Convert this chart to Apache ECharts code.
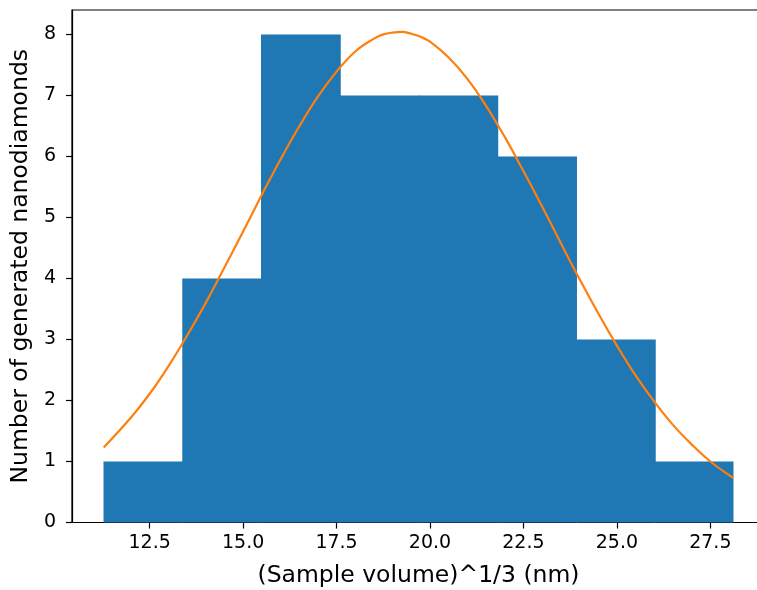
<!DOCTYPE html>
<html>
<head>
<meta charset="utf-8">
<script src="https://cdn.jsdelivr.net/npm/echarts@6/dist/echarts.min.js"></script>
<style>html,body{margin:0;padding:0;background:#fff;overflow:hidden}#c{width:757px;height:590px}</style>
</head>
<body>
<div id="c"></div>
<script>
// Histogram bin edges (nm) and counts
var binEdges = [11.265, 13.372, 15.479, 17.586, 19.693, 21.799, 23.906, 26.013, 28.12];
var counts = [1, 4, 8, 7, 7, 6, 3, 1];
// Fitted curve, values
var curveX = [11.27, 12.0, 12.5, 13.0, 13.5, 14.0, 14.5, 15.0, 15.5, 16.0, 16.5, 17.0, 17.5, 18.0, 18.5, 18.75, 19.0, 19.25, 19.5, 19.75, 20.0, 20.5, 21.0, 21.5, 22.0, 22.5, 23.0, 23.5, 24.0, 24.5, 25.0, 25.5, 26.0, 26.5, 27.0, 27.5, 28.12];
var curveY = [1.23, 1.72, 2.11, 2.56, 3.06, 3.60, 4.18, 4.77, 5.37, 5.95, 6.49, 6.98, 7.39, 7.72, 7.93, 8.00, 8.03, 8.04, 8.01, 7.96, 7.88, 7.62, 7.27, 6.83, 6.32, 5.76, 5.18, 4.58, 3.99, 3.43, 2.90, 2.41, 1.98, 1.60, 1.28, 1.00, 0.73];
// Tick labels
var xTicks = [12.5, 15.0, 17.5, 20.0, 22.5, 25.0, 27.5];
var yTicks = [0, 1, 2, 3, 4, 5, 6, 7, 8];

var barData = counts.map(function (c, i) { return [binEdges[i], binEdges[i + 1], c]; });
var lineData = curveX.map(function (x, i) { return [x, curveY[i]]; });

var font = 'DejaVu Sans';
var chart = echarts.init(document.getElementById('c'), null, { renderer: 'canvas' });
chart.setOption({
  animation: false,
  backgroundColor: '#fff',
  grid: { left: 72, top: 10, width: 693, bottom: 67.5, outerBoundsMode: 'none', containLabel: false,
    show: true, borderColor: '#000', borderWidth: 1.2, backgroundColor: 'transparent' },
  xAxis: {
    type: 'value', min: 10.422, max: 28.963,
    name: '(Sample volume)^1/3 (nm)', nameLocation: 'middle', nameGap: 41,
    nameTextStyle: { fontFamily: font, fontSize: 23.5, color: '#000' },
    axisLine: { show: true, onZero: false, lineStyle: { color: '#000', width: 1.2 } },
    axisTick: { show: true, length: 6, customValues: xTicks, lineStyle: { color: '#000', width: 1.2 } },
    axisLabel: { customValues: xTicks, margin: 11, fontFamily: font, fontSize: 19, color: '#000',
      formatter: function (v) { return v.toFixed(1); } },
    splitLine: { show: false }
  },
  yAxis: {
    type: 'value', min: 0, max: 8.4,
    name: 'Number of generated nanodiamonds', nameLocation: 'middle', nameGap: 38,
    nameTextStyle: { fontFamily: font, fontSize: 23.5, color: '#000' },
    axisLine: { show: true, lineStyle: { color: '#000', width: 1.2 } },
    axisTick: { show: true, length: 6, customValues: yTicks, lineStyle: { color: '#000', width: 1.2 } },
    axisLabel: { customValues: yTicks, margin: 16, fontFamily: font, fontSize: 19, color: '#000' },
    splitLine: { show: false }
  },
  series: [
    {
      type: 'custom',
      data: barData,
      encode: { x: [0, 1], y: 2 },
      renderItem: function (params, api) {
        var p0 = api.coord([api.value(0), api.value(2)]);
        var p1 = api.coord([api.value(1), 0]);
        var extra = params.dataIndex < counts.length - 1 ? 1 : 0;
        return {
          type: 'rect',
          shape: { x: p0[0], y: p0[1], width: p1[0] - p0[0] + extra, height: p1[1] - p0[1] },
          style: { fill: '#1f77b4', stroke: null }
        };
      },
      z: 2
    },
    {
      type: 'line',
      data: lineData,
      smooth: 0.4,
      showSymbol: false,
      lineStyle: { color: '#ff7f0e', width: 2.2 },
      itemStyle: { color: '#ff7f0e' },
      z: 3
    }
  ]
});
</script>
</body>
</html>
